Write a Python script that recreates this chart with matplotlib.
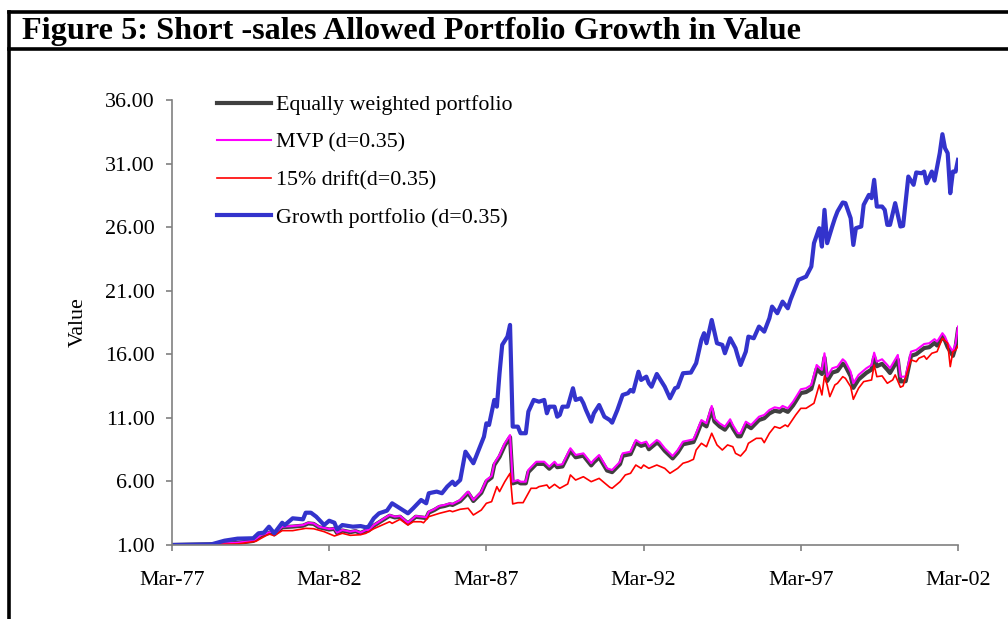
import matplotlib
matplotlib.use('Agg')
import matplotlib.pyplot as plt
import matplotlib.dates as mdates
from matplotlib.lines import Line2D
import pandas as pd

# months since Mar-1977
mvp_months = [0, 14, 25, 31, 34, 38, 39, 42, 46, 50, 52, 54, 56, 60, 62, 63, 65, 68, 70, 72,
              74, 75, 77, 81, 83, 85, 87, 90, 93, 95, 97, 98, 100, 102, 104, 106, 107, 110, 113, 115,
              118, 120, 122, 123, 125, 127, 129, 130, 132, 133, 135, 136, 139, 142, 144, 146, 147, 149, 152, 154,
              157, 160, 161, 163, 166, 168, 171, 172, 175, 177, 179, 181, 182, 185, 186, 188, 191, 193, 195, 199,
              200, 202, 204, 206, 207, 209, 211, 213, 214, 216, 217, 219, 221, 224, 226, 228, 230, 232, 233, 235,
              237, 240, 242, 244, 246, 248, 249, 250, 252, 254, 256, 257, 259, 260, 262, 265, 267, 268, 269, 271,
              273, 274, 277, 278, 280, 282, 284, 287, 289, 291, 292, 294, 295, 296, 298, 299, 300]

mvp = [1.00, 1.05, 1.18, 1.34, 1.79, 2.05, 1.87, 2.44, 2.49, 2.57, 2.75, 2.70, 2.44, 2.26, 2.31, 1.97, 2.18, 2.05, 2.13, 1.97,
       2.18, 2.18, 2.57, 3.10, 3.36, 3.23, 3.28, 2.75, 3.28, 3.23, 3.18, 3.62, 3.81, 4.07, 4.15, 4.28, 4.23, 4.54, 5.20, 4.54,
       5.20, 6.11, 6.43, 7.43, 8.08, 9.00, 9.65, 5.98, 6.11, 5.98, 5.98, 6.90, 7.55, 7.55, 7.16, 7.55, 7.29, 7.35, 8.61, 8.08,
       8.21, 7.43, 7.69, 8.08, 7.03, 6.90, 7.55, 8.21, 8.34, 9.26, 9.00, 9.13, 8.73, 9.26, 9.13, 8.61, 8.00, 8.47, 9.13, 9.31,
       9.79, 10.83, 10.57, 11.94, 10.96, 10.57, 10.31, 10.89, 10.44, 9.79, 9.79, 10.70, 10.44, 11.09, 11.23, 11.62, 11.83, 11.75, 11.94, 11.75,
       12.27, 13.25, 13.33, 13.59, 15.16, 14.77, 16.08, 14.24, 14.90, 15.03, 15.61, 15.42, 14.63, 13.72, 14.38, 14.90, 15.16, 16.13, 15.42, 15.61,
       15.16, 14.90, 15.95, 14.24, 14.24, 16.21, 16.34, 16.81, 16.87, 17.19, 17.00, 17.66, 17.39, 16.87, 16.21, 16.87, 18.18]

equal_w = [1.00, 1.05, 1.16, 1.32, 1.75, 2.00, 1.84, 2.40, 2.45, 2.52, 2.70, 2.66, 2.40, 2.22, 2.27, 1.94, 2.14, 2.01, 2.09, 1.94,
           2.14, 2.14, 2.52, 3.04, 3.30, 3.17, 3.22, 2.70, 3.22, 3.17, 3.12, 3.55, 3.74, 3.99, 4.07, 4.20, 4.15, 4.45, 5.10, 4.46,
           5.10, 5.99, 6.31, 7.29, 7.93, 8.84, 9.48, 5.85, 5.97, 5.85, 5.85, 6.74, 7.38, 7.38, 7.00, 7.38, 7.12, 7.18, 8.42, 7.90,
           8.03, 7.26, 7.51, 7.90, 6.86, 6.73, 7.37, 8.02, 8.15, 9.06, 8.80, 8.93, 8.53, 9.05, 8.92, 8.41, 7.81, 8.27, 8.92, 9.10,
           9.57, 10.60, 10.33, 11.70, 10.72, 10.33, 10.07, 10.64, 10.19, 9.55, 9.55, 10.45, 10.19, 10.83, 10.97, 11.35, 11.56, 11.48, 11.66, 11.47,
           11.98, 12.95, 13.03, 13.28, 14.84, 14.45, 15.74, 13.90, 14.56, 14.69, 15.27, 15.07, 14.28, 13.36, 14.02, 14.54, 14.80, 15.77, 15.06, 15.25,
           14.79, 14.53, 15.58, 13.87, 13.88, 15.88, 16.01, 16.49, 16.56, 16.89, 16.69, 17.37, 17.08, 16.56, 15.88, 16.57, 17.95]

drift_months = [0, 16, 25, 32, 34, 37, 39, 42, 46, 51, 54, 58, 62, 65, 68, 72, 74, 77, 81, 83,
                84, 87, 90, 92, 95, 96, 98, 102, 106, 107, 110, 113, 115, 118, 120, 122, 124, 125, 127, 129,
                130, 132, 134, 136, 137, 139, 140, 143, 144, 146, 148, 151, 152, 154, 157, 160, 163, 167, 168, 171,
                173, 175, 177, 179, 180, 182, 185, 188, 190, 193, 195, 197, 199, 200, 202, 204, 206, 208, 210, 212,
                214, 215, 217, 219, 220, 223, 225, 226, 228, 230, 232, 234, 235, 238, 240, 242, 245, 247, 248, 249,
                250, 251, 253, 254, 256, 257, 259, 260, 262, 264, 267, 268, 269, 271, 273, 275, 276, 278, 279, 282,
                284, 285, 287, 288, 290, 292, 294, 296, 297, 298, 299, 300]

drift = [1.00, 1.05, 1.08, 1.29, 1.53, 1.87, 1.73, 2.13, 2.13, 2.31, 2.28, 2.05, 1.71, 1.92, 1.76, 1.81, 1.92, 2.28, 2.65, 2.83,
         2.70, 3.02, 2.57, 2.83, 2.83, 2.75, 3.23, 3.49, 3.70, 3.62, 3.81, 3.89, 3.36, 3.75, 4.28, 4.41, 5.59, 5.20, 5.98, 6.64,
         4.23, 4.33, 4.33, 5.07, 5.46, 5.46, 5.59, 5.72, 5.46, 5.77, 5.46, 5.80, 6.51, 6.11, 6.37, 5.98, 6.24, 5.54, 5.46, 5.98,
         6.51, 6.64, 7.29, 7.03, 7.29, 7.03, 7.29, 7.03, 6.64, 7.03, 7.43, 7.55, 7.74, 8.47, 9.00, 8.73, 9.79, 8.87, 8.47, 8.87,
         8.73, 8.21, 8.00, 8.47, 9.00, 9.39, 9.39, 9.05, 9.79, 10.31, 10.18, 10.44, 10.31, 11.23, 11.75, 11.75, 12.15, 13.59, 12.80, 14.30,
         13.59, 12.67, 13.59, 13.72, 14.24, 14.11, 13.45, 12.46, 13.33, 13.85, 13.98, 15.16, 14.24, 14.30, 13.72, 13.98, 14.38, 13.41, 13.51, 15.56,
         15.42, 15.69, 15.87, 15.61, 16.08, 16.21, 17.26, 16.87, 15.03, 16.21, 16.34, 16.66]

growth_months = [0, 15, 20, 25, 31, 33, 35, 37, 39, 42, 43, 46, 50, 51, 53, 55, 58, 60, 62, 63,
                 65, 69, 72, 74, 75, 77, 79, 82, 84, 87, 90, 92, 95, 97, 98, 101, 103, 105, 107, 108,
                 110, 112, 115, 116, 119, 120, 121, 123, 124, 125, 126, 128, 129, 130, 132, 133, 135, 136, 138, 140,
                 142, 143, 144, 146, 147, 148, 149, 151, 153, 154, 156, 157, 158, 160, 161, 163, 165, 167, 168, 170,
                 172, 174, 175, 176, 178, 179, 181, 182, 183, 185, 186, 188, 190, 192, 193, 195, 198, 200, 202, 203,
                 204, 206, 208, 210, 211, 213, 215, 216, 217, 219, 220, 222, 224, 226, 228, 229, 231, 233, 235, 236,
                 239, 242, 244, 245, 247, 248, 249, 250, 252, 253, 254, 256, 257, 259, 260, 261, 263, 264, 266, 267,
                 268, 269, 271, 272, 273, 274, 276, 278, 279, 281, 283, 284, 286, 287, 288, 290, 291, 293, 294, 295,
                 296, 297, 298, 299, 300]

growth = [1.00, 1.05, 1.34, 1.50, 1.53, 1.92, 1.97, 2.44, 1.92, 2.75, 2.57, 3.10, 3.02, 3.54, 3.54, 3.23, 2.57, 2.91, 2.75, 2.23,
          2.57, 2.44, 2.49, 2.39, 2.44, 3.10, 3.49, 3.70, 4.28, 3.89, 3.49, 3.89, 4.54, 4.28, 5.07, 5.20, 5.07, 5.59, 5.98, 5.72,
          6.11, 8.34, 7.43, 7.95, 9.52, 10.57, 10.44, 12.41, 11.88, 14.51, 16.74, 17.39, 18.31, 10.31, 10.31, 9.79, 9.79, 11.49, 12.41, 12.27,
          12.41, 11.36, 11.88, 11.88, 11.09, 11.23, 11.88, 11.88, 13.33, 12.41, 12.54, 12.15, 11.62, 10.70, 11.36, 12.01, 11.09, 10.83, 10.62, 11.62,
          12.80, 12.94, 13.19, 13.06, 14.63, 13.98, 14.24, 13.72, 13.45, 14.45, 14.11, 13.45, 12.54, 13.33, 13.41, 14.51, 14.56, 15.30, 17.13, 17.66,
          16.87, 18.70, 16.87, 16.74, 16.08, 17.26, 16.48, 15.82, 15.16, 16.21, 17.39, 17.26, 18.18, 17.78, 18.84, 19.75, 19.23, 20.14, 19.62, 20.28,
          21.85, 22.11, 22.90, 24.74, 25.92, 24.47, 27.36, 24.74, 26.05, 26.70, 27.23, 27.94, 27.89, 26.70, 24.60, 25.92, 26.05, 27.75, 28.54, 28.28,
          29.72, 27.62, 27.62, 27.36, 26.18, 26.18, 27.89, 26.05, 26.10, 29.98, 29.33, 30.30, 30.24, 30.37, 29.45, 30.37, 29.66, 31.82, 33.31, 32.21,
          31.82, 28.67, 30.37, 30.37, 31.29]

yticks = [1, 6, 11, 16, 21, 26, 31, 36]
xtick_years = [1977, 1982, 1987, 1992, 1997, 2002]


def to_dates(months):
    start = pd.Period('1977-03', freq='M')
    return [(start + m).to_timestamp() for m in months]


def main():
    plt.rcParams['font.family'] = ['Liberation Serif', 'DejaVu Serif']
    fs = 15.8

    fig = plt.figure(figsize=(10.08, 6.19), dpi=100)
    ax = fig.add_axes([172 / 1008, 1 - 545 / 619, 786 / 1008, 445 / 619])

    ax.plot(to_dates(mvp_months), equal_w, color='#404040', lw=3.0, label='Equally weighted portfolio')
    ax.plot(to_dates(mvp_months), mvp, color='#FF00FF', lw=1.5, label='MVP (d=0.35)')
    ax.plot(to_dates(drift_months), drift, color='#FF0000', lw=1.2, label='15% drift(d=0.35)')
    ax.plot(to_dates(growth_months), growth, color='#3333CC', lw=3.0, label='Growth portfolio (d=0.35)')

    ax.set_ylim(1, 36)
    ax.set_yticks(yticks)
    ax.set_yticklabels(['%.2f' % v for v in yticks])
    ax.set_xlim(pd.Timestamp('1977-03-01'), pd.Timestamp('2002-03-01'))
    ax.set_xticks([pd.Timestamp('%d-03-01' % y) for y in xtick_years])
    ax.xaxis.set_major_formatter(mdates.DateFormatter('%b-%y'))

    for s in ['top', 'right']:
        ax.spines[s].set_visible(False)
    for s in ['left', 'bottom']:
        ax.spines[s].set_color('#808080')
        ax.spines[s].set_linewidth(1.2)
    ax.tick_params(axis='both', colors='#808080', labelcolor='black', labelsize=fs,
                   length=4.5, width=1.2)
    ax.tick_params(axis='y', pad=8)
    ax.tick_params(axis='x', pad=14)
    ax.set_ylabel('Value', fontsize=fs, labelpad=12)

    ax.legend(loc='upper left', bbox_to_anchor=(0.043, 1.036), frameon=False, fontsize=fs,
              handlelength=2.45, handletextpad=0.25, labelspacing=0.78, borderpad=0)

    # border and title box
    lw = 2.6
    fig.add_artist(Line2D([9 / 1008, 1], [1 - 12 / 619] * 2, color='black', lw=lw))
    fig.add_artist(Line2D([9 / 1008, 1], [1 - 49 / 619] * 2, color='black', lw=lw))
    fig.add_artist(Line2D([9 / 1008] * 2, [0, 1 - 12 / 619], color='black', lw=lw))
    fig.text(22 / 1008, 1 - 32 / 619, 'Figure 5: Short -sales Allowed Portfolio Growth in Value',
             fontsize=23.2, fontweight='bold', va='center', ha='left')

    fig.savefig('out.png', dpi=100)


if __name__ == '__main__':
    main()
